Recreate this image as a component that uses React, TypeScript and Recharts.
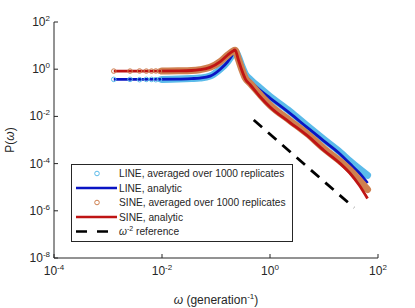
import { ComposedChart, Line, XAxis, YAxis, Legend, Label } from "recharts";

// frequency grid (generation^-1) and power spectra
const wAnalytic = [0.00128, 0.005, 0.02, 0.035, 0.05, 0.078, 0.12, 0.165, 0.2, 0.225, 0.26, 0.3, 0.35, 0.43, 0.65, 1, 2.35, 4.8, 10, 20, 30, 45, 64];
const lineAnalytic = [0.37, 0.37, 0.38, 0.4, 0.42, 0.51, 1.0, 2.1, 4.0, 6.3, 3.2, 1.3, 0.55, 0.32, 0.13, 0.06, 0.0135, 3.5e-3, 9e-4, 2.5e-4, 1.0e-4, 4e-5, 1.5e-5];
const sineAnalytic = [0.83, 0.83, 0.85, 0.88, 0.95, 1.2, 2.1, 4.0, 5.6, 6.5, 2.45, 0.92, 0.38, 0.22, 0.07, 0.025, 0.0055, 1.6e-3, 3.6e-4, 1.0e-4, 4.0e-5, 1.2e-5, 3.3e-6];

// averaged over replicates: dense part (drawn as a band) and sparse low-frequency circles
const wAvg = [0.01, 0.02, 0.035, 0.05, 0.078, 0.12, 0.165, 0.2, 0.225, 0.26, 0.3, 0.35, 0.43, 0.65, 1, 2.35, 4.8, 10, 20, 30, 45, 64];
const lineAvg = [0.37, 0.38, 0.4, 0.42, 0.51, 1.0, 2.1, 4.0, 6.0, 3.4, 1.4, 0.62, 0.37, 0.16, 0.07, 0.016, 4.1e-3, 1.05e-3, 3.0e-4, 1.3e-4, 6e-5, 3.2e-5];
const sineAvg = [0.83, 0.85, 0.88, 0.95, 1.2, 2.1, 4.0, 5.6, 6.3, 2.6, 1.0, 0.42, 0.25, 0.085, 0.03, 0.0066, 1.9e-3, 4.3e-4, 1.25e-4, 5.5e-5, 2e-5, 8e-6];

const wDots = [0.00128, 0.00256, 0.00384, 0.00512, 0.0064, 0.00768, 0.00896];
const lineDots = [0.37, 0.37, 0.36, 0.37, 0.37, 0.36, 0.37];
const sineDots = [0.83, 0.83, 0.84, 0.83, 0.83, 0.84, 0.83];

// omega^-2 reference
const wRef = [0.5, 36];
const pRef = [7e-3, 1.35e-6];

const xTicks = [1e-4, 1e-2, 1, 1e2];
const yTicks = [1e-8, 1e-6, 1e-4, 1e-2, 1, 1e2];

const C_LINE_AVG = "#5bbbea";
const C_LINE = "#0a14c4";
const C_SINE_AVG = "#cf8050";
const C_SINE = "#bf1414";
const AX = "#262626";
const FONT = "'Liberation Sans', Arial, sans-serif";

const rows = (w: number[], p: number[]) => w.map((x, i) => ({ w: x, p: p[i] }));

const expOf = (v: number) => Math.round(Math.log10(v));

const BottomTick = ({ x, y, payload }: any) => (
  <g>
    <line x1={x} x2={x} y1={y} y2={y - 4} stroke={AX} />
    <text x={x} y={y + 17} textAnchor="middle" fontSize={12} fill={AX} fontFamily={FONT}>
      10<tspan dy={-5} fontSize={8}>{expOf(payload.value)}</tspan>
    </text>
  </g>
);

const TopTick = ({ x, y }: any) => <line x1={x} x2={x} y1={y} y2={y + 4} stroke={AX} />;

const LeftTick = ({ x, y, payload }: any) => (
  <g>
    <line x1={x} x2={x + 4} y1={y} y2={y} stroke={AX} />
    <text x={x - 4} y={y + 4} textAnchor="end" fontSize={12} fill={AX} fontFamily={FONT}>
      10<tspan dy={-5} fontSize={8}>{expOf(payload.value)}</tspan>
    </text>
  </g>
);

const RightTick = ({ x, y }: any) => <line x1={x} x2={x - 4} y1={y} y2={y} stroke={AX} />;

const legendRows = [
  { kind: "dot", color: C_LINE_AVG, text: "LINE, averaged over 1000 replicates" },
  { kind: "line", color: C_LINE, text: "LINE, analytic" },
  { kind: "dot", color: C_SINE_AVG, text: "SINE, averaged over 1000 replicates" },
  { kind: "line", color: C_SINE, text: "SINE, analytic" },
  { kind: "dash", color: "#000", text: "reference" },
];

const LegendBox = () => (
  <svg width={222} height={78} style={{ display: "block" }}>
    <rect x={0.5} y={0.5} width={221} height={77} fill="#fff" stroke={AX} />
    {legendRows.map((r, i) => {
      const cy = 9.5 + i * 14.5;
      return (
        <g key={i}>
          {r.kind === "dot" && <circle cx={26} cy={cy} r={2.3} fill="none" stroke={r.color} strokeWidth={1} />}
          {r.kind === "line" && <line x1={5} x2={46} y1={cy} y2={cy} stroke={r.color} strokeWidth={2.5} />}
          {r.kind === "dash" && <line x1={5} x2={46} y1={cy} y2={cy} stroke={r.color} strokeWidth={2.5} strokeDasharray="11 10" />}
          <text x={48} y={cy + 3.5} fontSize={10.2} fill={AX} fontFamily={FONT}>
            {r.kind === "dash" ? (
              <>
                <tspan fontStyle="italic">ω</tspan>
                <tspan dy={-4} fontSize={7}>-2</tspan>
                <tspan dy={4}> {r.text}</tspan>
              </>
            ) : (
              r.text
            )}
          </text>
        </g>
      );
    })}
  </svg>
);

export default function App() {
  return (
    <div style={{ position: "absolute", left: 0, top: 0, background: "#fff" }}>
      <ComposedChart width={415} height={308} margin={{ top: 22, right: 37, left: 0, bottom: 0 }}>
        <XAxis
          xAxisId={0}
          dataKey="w"
          type="number"
          scale="log"
          domain={[1e-4, 1e2]}
          ticks={xTicks}
          allowDataOverflow
          height={50}
          tickSize={0}
          tickMargin={0}
          tickLine={false}
          axisLine={{ stroke: AX }}
          tick={<BottomTick />}
        >
          <Label
            content={({ viewBox }: any) => (
              <text x={viewBox.x + viewBox.width / 2} y={viewBox.y + 46} textAnchor="middle" fontSize={12} fill={AX} fontFamily={FONT}>
                <tspan fontStyle="italic">ω</tspan> (generation<tspan dy={-5} fontSize={8}>-1</tspan>
                <tspan dy={5}>)</tspan>
              </text>
            )}
          />
        </XAxis>
        <XAxis
          xAxisId="top"
          orientation="top"
          type="number"
          scale="log"
          domain={[1e-4, 1e2]}
          ticks={xTicks}
          allowDataOverflow
          height={0}
          tickSize={0}
          tickMargin={0}
          tickLine={false}
          axisLine={{ stroke: AX }}
          tick={<TopTick />}
        />
        <YAxis
          yAxisId={0}
          type="number"
          scale="log"
          domain={[1e-8, 1e2]}
          ticks={yTicks}
          allowDataOverflow
          width={54}
          tickSize={0}
          tickMargin={0}
          tickLine={false}
          axisLine={{ stroke: AX }}
          tick={<LeftTick />}
        >
          <Label
            content={({ viewBox }: any) => {
              const cx = viewBox.x + 14;
              const cy = viewBox.y + viewBox.height / 2;
              return (
                <text x={cx} y={cy} transform={`rotate(-90 ${cx} ${cy})`} textAnchor="middle" fontSize={12} fill={AX} fontFamily={FONT}>
                  P(<tspan fontStyle="italic">ω</tspan>)
                </text>
              );
            }}
          />
        </YAxis>
        <YAxis
          yAxisId="right"
          orientation="right"
          type="number"
          scale="log"
          domain={[1e-8, 1e2]}
          ticks={yTicks}
          allowDataOverflow
          width={0}
          tickSize={0}
          tickMargin={0}
          tickLine={false}
          axisLine={{ stroke: AX }}
          tick={<RightTick />}
        />

        <Line data={rows(wDots, lineDots)} dataKey="p" stroke="none" isAnimationActive={false}
          dot={{ r: 2.3, fill: "none", stroke: C_LINE_AVG, strokeWidth: 1 }} />
        <Line data={rows(wAvg, lineAvg)} type="monotone" dataKey="p" stroke={C_LINE_AVG} strokeWidth={7} strokeLinecap="round" dot={false} isAnimationActive={false} />
        <Line data={rows(wAnalytic, lineAnalytic)} type="monotone" dataKey="p" stroke={C_LINE} strokeWidth={2.8} dot={false} isAnimationActive={false} />
        <Line data={rows(wDots, sineDots)} dataKey="p" stroke="none" isAnimationActive={false}
          dot={{ r: 2.3, fill: "none", stroke: C_SINE_AVG, strokeWidth: 1 }} />
        <Line data={rows(wAvg, sineAvg)} type="monotone" dataKey="p" stroke={C_SINE_AVG} strokeWidth={7} strokeLinecap="round" dot={false} isAnimationActive={false} />
        <Line data={rows(wAnalytic, sineAnalytic)} type="monotone" dataKey="p" stroke={C_SINE} strokeWidth={2.8} dot={false} isAnimationActive={false} />
        <Line data={rows(wRef, pRef)} dataKey="p" stroke="#000" strokeWidth={2.8} strokeDasharray="11 8" dot={false} isAnimationActive={false} />

        <Legend
          layout="vertical"
          align="center"
          verticalAlign="middle"
          content={() => <LegendBox />}
          wrapperStyle={{ position: "absolute", left: 71, top: 164, width: 222, height: 78 }}
        />
      </ComposedChart>
    </div>
  );
}
